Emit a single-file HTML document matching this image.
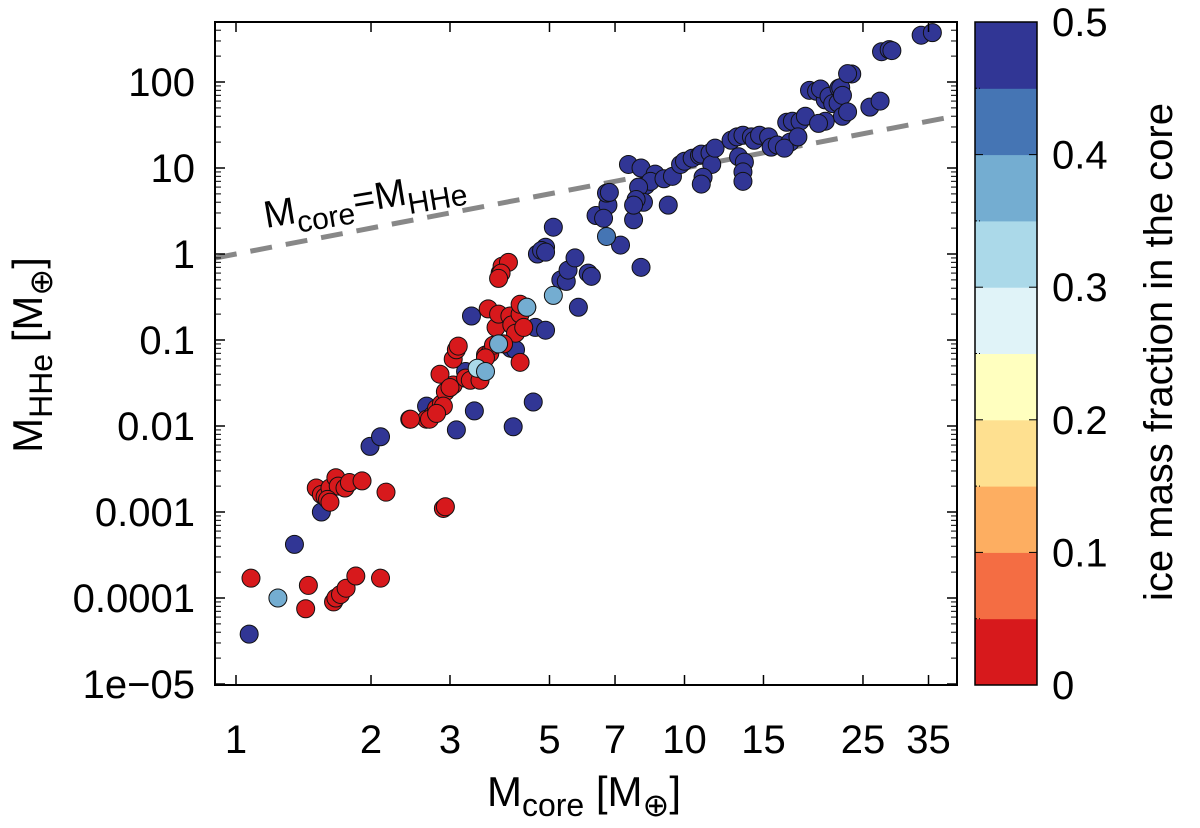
<!DOCTYPE html>
<html><head><meta charset="utf-8"><style>
html,body{margin:0;padding:0;background:#fff;}
svg{display:block;font-family:"Liberation Sans",sans-serif;}
</style></head><body>
<svg id="chart" width="1200" height="828" viewBox="0 0 1200 828">
<g id="grid"></g>
<g id="marks"></g>
<g id="axes"></g>
<g id="cbar"></g>
</svg>
<script>
const xTicks=[1,2,3,5,7,10,15,25,35];
const yTicks=[1e-5,1e-4,1e-3,0.01,0.1,1,10,100];
const yTickLabels=["1e−05","0.0001","0.001","0.01","0.1","1","10","100"];
const cbTicks=[0,0.1,0.2,0.3,0.4,0.5];
const cbColors=["#d7191c","#f46d43","#fdae61","#fee090","#ffffbf","#e0f3f8","#abd9e9","#74add1","#4575b4","#313695"];
const redX=[1.08,1.45,1.43,1.65,1.67,1.71,1.76,1.85,2.1,1.51,1.55,1.58,1.62,1.67,1.69,1.6,1.75,1.79,1.91,1.62,2.16,2.9,2.93,2.44,2.66,2.75,2.8,2.87,2.93,3.05,2.85,3.05,3.1,3.13,3.25,3.33,3.6,3.68,3.75,3.65,3.8,3.85,3.88,3.92,4.05,4.08,4.12,4.2,4.3,4.3,4.38,4.3,3.9,3.85,3.95,3.6,3.0,3.5,2.9,2.45,2.7,2.8];
const redY=[0.00017,0.00014,0.000075,0.00009,0.0001,0.00011,0.00013,0.00018,0.00017,0.0019,0.0016,0.0015,0.0019,0.0025,0.002,0.0014,0.0019,0.0022,0.0023,0.0013,0.0017,0.0011,0.00115,0.012,0.012,0.0135,0.016,0.018,0.025,0.03,0.04,0.06,0.077,0.085,0.036,0.034,0.067,0.07,0.087,0.23,0.14,0.2,0.6,0.72,0.8,0.19,0.15,0.12,0.2,0.26,0.14,0.055,0.6,0.52,0.09,0.062,0.028,0.034,0.017,0.012,0.012,0.014];
const blueX=[1.07,1.35,1.55,1.99,2.1,2.66,3.1,3.25,3.4,3.35,4.1,4.2,4.15,4.6,4.45,4.65,4.9,4.9,4.7,4.8,4.9,5.1,5.3,5.45,5.5,5.7,6.1,6.2,5.8,6.35,6.75,6.7,6.6,7.7,7.2,8.0,7.5,6.8,8.0,8.2,8.6,8.4,7.9,8.1,7.8,7.7,9.2,9.0,9.4,9.8,10.0,10.4,10.8,10.9,11.4,11.5,11.0,10.9,11.7,12.7,13.1,13.5,14.1,13.2,13.6,13.5,13.5,14.3,14.7,15.4,15.6,16.1,16.9,17.4,18.1,17.2,16.7,17.9,18.6,19.0,19.7,20.6,20.1,21,22.1,22.3,23.6,23.1,21.4,22,22.5,20.6,19.9,22.5,23.1,25.9,27.3,27.5,28.6,29.0,33.7,35.7];
const blueY=[0.000038,0.00042,0.001,0.0058,0.0075,0.017,0.009,0.043,0.015,0.19,0.08,0.077,0.0098,0.019,0.24,0.14,0.13,1.2,1.0,1.1,1.05,2.05,0.5,0.48,0.65,0.9,0.6,0.55,0.24,2.8,3.7,5.1,2.6,2.5,1.27,0.7,11,5.2,10,6.3,8.5,7,6,4.0,4.3,3.7,3.7,7.5,8,11,12,13,14,14.5,15,11,7.8,6.5,17,21,23,24,23,13.5,11.7,9,7,21,24,23,17.5,18.5,34,35,35,20,17,23,40,80,78,62,83,68,85,86,124,125,56,57,70,35,33,40,45,51,60,225,238,232,350,375];
const midX=[1.24,5.1,6.7,3.45,4.45,3.85,3.6];
const midY=[0.0001,0.33,1.6,0.047,0.24,0.09,0.043];
const midF=[0.38,0.38,0.43,0.33,0.38,0.38,0.38];

const NS="http://www.w3.org/2000/svg";
const L=215,R=957,T=22,B=685;
const X0=236,XDEC=448.5,Y1=254,YDEC=86;
function xs(v){return X0+Math.log10(v)*XDEC;}
function ys(v){return Y1-Math.log10(v)*YDEC;}
function cb(v){return B-(v/0.5)*(B-T);}
function colorOf(f){let i=Math.floor(f/0.05);if(i>9)i=9;if(i<0)i=0;return cbColors[i];}
function mk(tag,attrs,parent){const e=document.createElementNS(NS,tag);for(const k in attrs)e.setAttribute(k,attrs[k]);parent.appendChild(e);return e;}
const marks=document.getElementById('marks'),axes=document.getElementById('axes'),cbar=document.getElementById('cbar');

const dl=mk('line',{x1:L,y1:ys(Math.pow(10,(L-X0)/XDEC)),x2:R,y2:ys(Math.pow(10,(R-X0)/XDEC)),stroke:'#888',"stroke-width":5,"stroke-dasharray":"22,14"},marks);


const ann=mk('text',{x:0,y:0,"font-size":38,fill:'#000',transform:'translate(266,228) rotate(-9.5)'},marks);


ann.innerHTML='M<tspan font-size="30" dy="10">core</tspan><tspan dy="-10">=M</tspan><tspan font-size="30" dy="10">HHe</tspan>';

function pts(xa,ya,fa,name){
  for(let i=0;i<xa.length;i++){
    const f=(typeof fa==='number')?fa:fa[i];
    const c=mk('circle',{cx:xs(xa[i]),cy:ys(ya[i]),r:9,fill:colorOf(f),stroke:'#111',"stroke-width":1},marks);
    
    
  }
}
pts(blueX,blueY,0.5,'point-high-ice');
pts(redX,redY,0,'point-no-ice');
pts(midX,midY,midF,'point-mid-ice');

const fr=mk('rect',{x:L,y:T,width:R-L,height:B-T,fill:'none',stroke:'#000',"stroke-width":2},axes);


xTicks.forEach(v=>{
  const x=xs(v);
  mk('line',{x1:x,y1:B,x2:x,y2:B-10,stroke:'#000',"stroke-width":1.5},axes);
  mk('line',{x1:x,y1:T,x2:x,y2:T+10,stroke:'#000',"stroke-width":1.5},axes);
  const t=mk('text',{x:x,y:753,"font-size":40,"text-anchor":"middle"},axes);
  
  
  t.textContent=v;
});
yTicks.forEach((v,i)=>{
  const y=ys(v);
  mk('line',{x1:L,y1:y,x2:L+10,y2:y,stroke:'#000',"stroke-width":1.5},axes);
  mk('line',{x1:R,y1:y,x2:R-10,y2:y,stroke:'#000',"stroke-width":1.5},axes);
  for(let k=2;k<=9;k++){const yy=ys(v*k);if(yy<T)break;
    mk('line',{x1:L,y1:yy,x2:L+6,y2:yy,stroke:'#000',"stroke-width":1},axes);
    mk('line',{x1:R,y1:yy,x2:R-6,y2:yy,stroke:'#000',"stroke-width":1},axes);}
  const t=mk('text',{x:195,y:y+14,"font-size":40,"text-anchor":"end"},axes);
  
  
  t.textContent=yTickLabels[i];
});
const xt=mk('text',{x:584,y:806,"font-size":42,"text-anchor":"middle"},axes);


xt.innerHTML='M<tspan font-size="32" dy="10">core</tspan><tspan dy="-10"> [M</tspan><tspan font-size="32" dy="10">⊕</tspan><tspan dy="-10">]</tspan>';
const yt=mk('text',{x:0,y:0,"font-size":42,"text-anchor":"middle",transform:'translate(42,355) rotate(-90)'},axes);


yt.innerHTML='M<tspan font-size="32" dy="10">HHe</tspan><tspan dy="-10"> [M</tspan><tspan font-size="32" dy="10">⊕</tspan><tspan dy="-10">]</tspan>';

const CL=975,CR=1037;
cbColors.forEach((c,i)=>{
  const r=mk('rect',{x:CL,y:cb((i+1)*0.05),width:CR-CL,height:cb(i*0.05)-cb((i+1)*0.05)+0.5,fill:c},cbar);
  
  
});
const cf=mk('rect',{x:CL,y:T,width:CR-CL,height:B-T,fill:'none',stroke:'#000',"stroke-width":1.5},cbar);


cbTicks.forEach(v=>{
  const y=cb(v);
  mk('line',{x1:CL,y1:y,x2:CL+8,y2:y,stroke:'#000',"stroke-width":1},cbar);
  mk('line',{x1:CR,y1:y,x2:CR-8,y2:y,stroke:'#000',"stroke-width":1},cbar);
  const t=mk('text',{x:1052,y:y+14,"font-size":40},cbar);
  
  
  t.textContent=v===0?'0':v.toString();
});
for(let i=1;i<10;i++){if(i%2===0)continue;const y=cb(i*0.05);
  mk('line',{x1:CL,y1:y,x2:CL+5,y2:y,stroke:'#000',"stroke-width":1,"stroke-dasharray":"2,2"},cbar);}
const ct=mk('text',{x:0,y:0,"font-size":40,"text-anchor":"middle",transform:'translate(1172,352) rotate(-90)'},cbar);


ct.textContent='ice mass fraction in the core';
</script>
</body></html>
